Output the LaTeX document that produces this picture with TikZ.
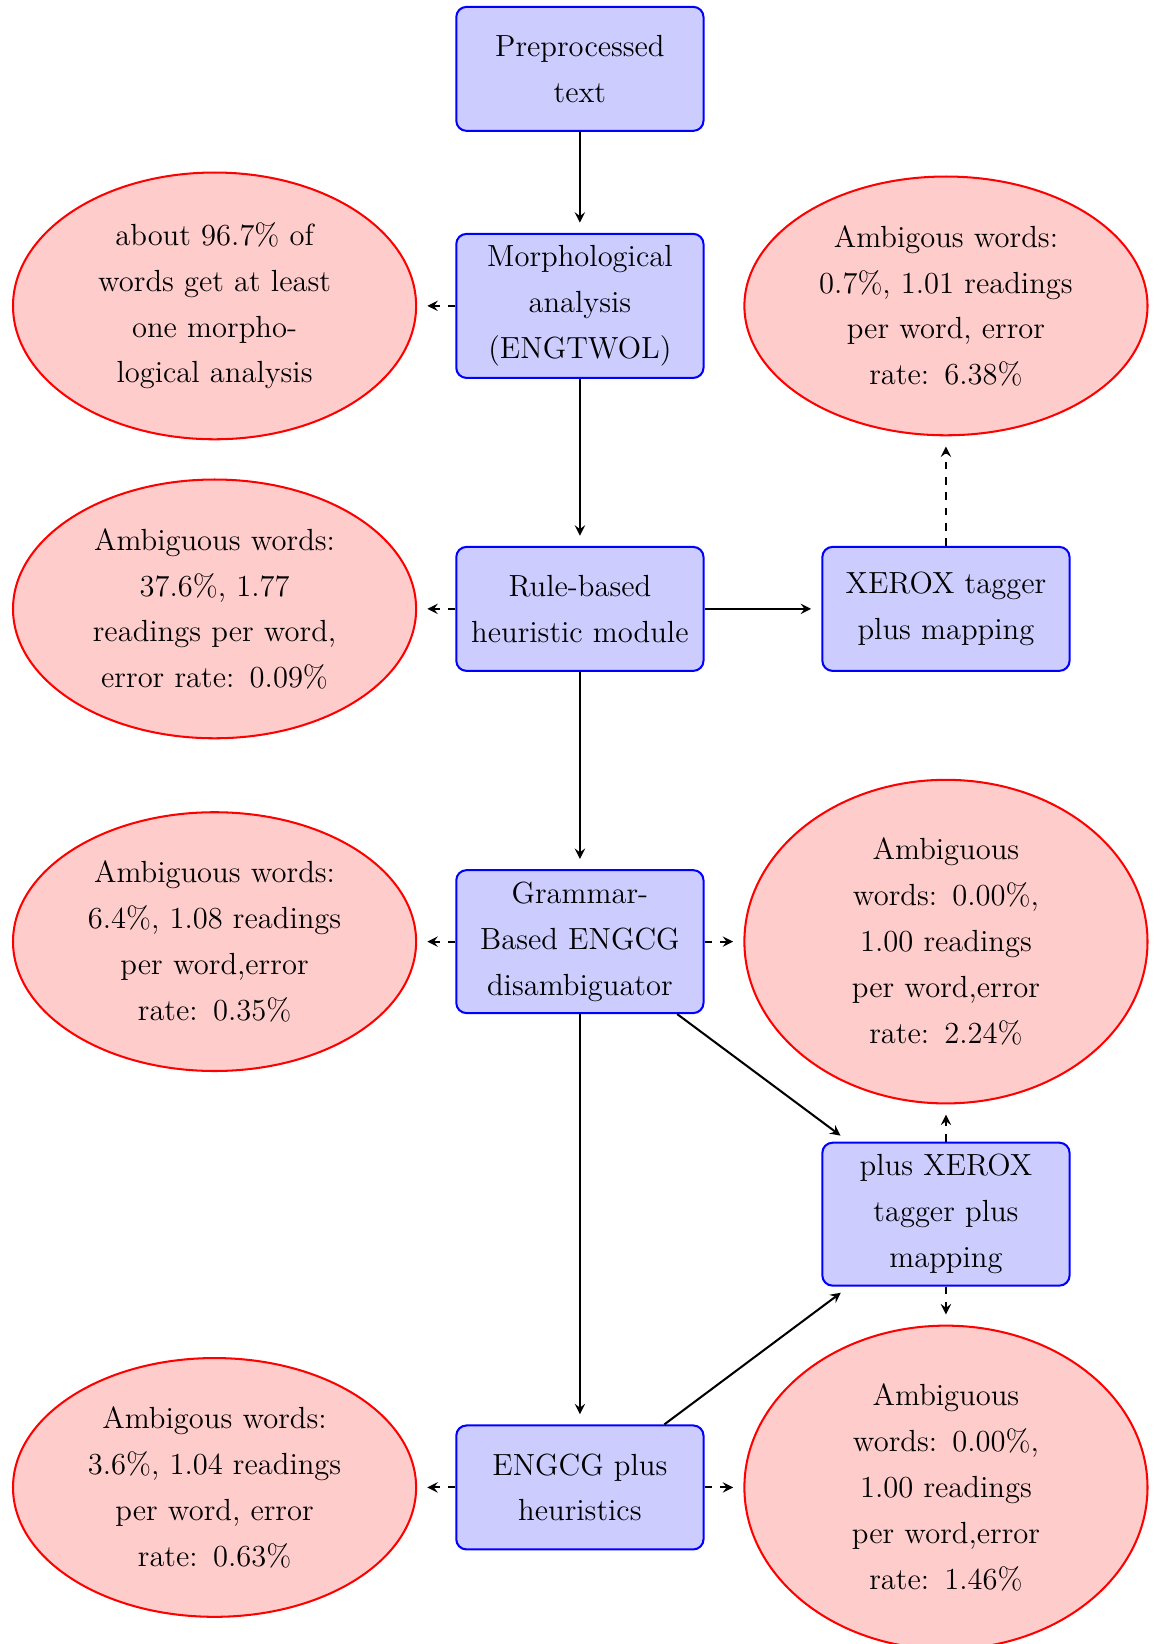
\documentclass[tikz,border=0pt,12pt]{standalone}
\usepackage{amsmath}
\usetikzlibrary{shapes.geometric}
\linespread{1.241}

\begin{document}
\begin{tikzpicture}[
	block/.style={rectangle, draw=blue, thick, fill=blue!20, text width=3.2cm, align=center, rounded corners, minimum height=1.71cm, inner xsep=3pt, inner ysep=4.6pt},
	cloud/.style={ellipse, draw=red, thick, fill=red!20, text width=3.63cm, align=center, inner sep=4.3pt},
	line/.style={thick, -stealth, shorten >=4pt},
	result/.style={line, dashed}]
	\useasboundingbox (0,0) rectangle (16,-22.68);

	\node [block] (text)    at (8,-0.95)  {Preprocessed text};
	\node [block] (morph)   at (8,-4.22)  {Morphological\\ analysis\\ (ENGTWOL)};
	\node [block] (rule)    at (8,-8.40)  {Rule-based heuristic module};
	\node [block] (xerox)   at (13.05,-8.40) {XEROX tagger plus mapping};
	\node [block] (engcg)   at (8,-12.99) {Grammar-Based ENGCG disambiguator};
	\node [block] (plusxrx) at (13.05,-16.75) {plus XEROX tagger plus mapping};
	\node [block] (engheur) at (8,-20.52) {ENGCG plus heuristics};

	\node [cloud] (resmorph) at (2.96,-4.22)  {about 96.7\% of\\ words get at least\\ one morpho-\\logical analysis};
	\node [cloud] (resxerox) at (13.05,-4.22) {Ambigous words:\\ 0.7\%, 1.01 readings\\ per word, error\\ rate: 6.38\%};
	\node [cloud] (resrule)  at (2.96,-8.40)  {Ambiguous words:\\ 37.6\%, 1.77\\ readings per word,\\ error rate: 0.09\%};
	\node [cloud] (resengcg) at (2.96,-12.99) {Ambiguous words:\\ 6.4\%, 1.08 readings\\ per word,error\\ rate: 0.35\%};
	\node [cloud] (resplus)  at (13.05,-12.99) {Ambiguous\\ words: 0.00\%,\\ 1.00 readings\\ per word,error\\ rate: 2.24\%};
	\node [cloud] (resheur)  at (2.96,-20.52) {Ambigous words:\\ 3.6\%, 1.04 readings\\ per word, error\\ rate: 0.63\%};
	\node [cloud] (resheurx) at (13.05,-20.52) {Ambiguous\\ words: 0.00\%,\\ 1.00 readings\\ per word,error\\ rate: 1.46\%};

	\draw [line] (text) -- (morph);
	\draw [line] (morph) -- (rule);
	\draw [line] (rule) -- (xerox);
	\draw [line] (rule) -- (engcg);
	\draw [line] (engcg) -- (engheur);
	\draw [line] (engcg) -- (plusxrx);
	\draw [line] (engheur) -- (plusxrx);

	\draw [result] (morph) -- (resmorph);
	\draw [result] (xerox) -- (resxerox);
	\draw [result] (rule) -- (resrule);
	\draw [result] (engcg) -- (resengcg);
	\draw [result] (engcg) -- (resplus);
	\draw [result] (plusxrx) -- (resplus);
	\draw [result] (plusxrx) -- (resheurx);
	\draw [result] (engheur) -- (resheur);
	\draw [result] (engheur) -- (resheurx);
\end{tikzpicture}
\end{document}
